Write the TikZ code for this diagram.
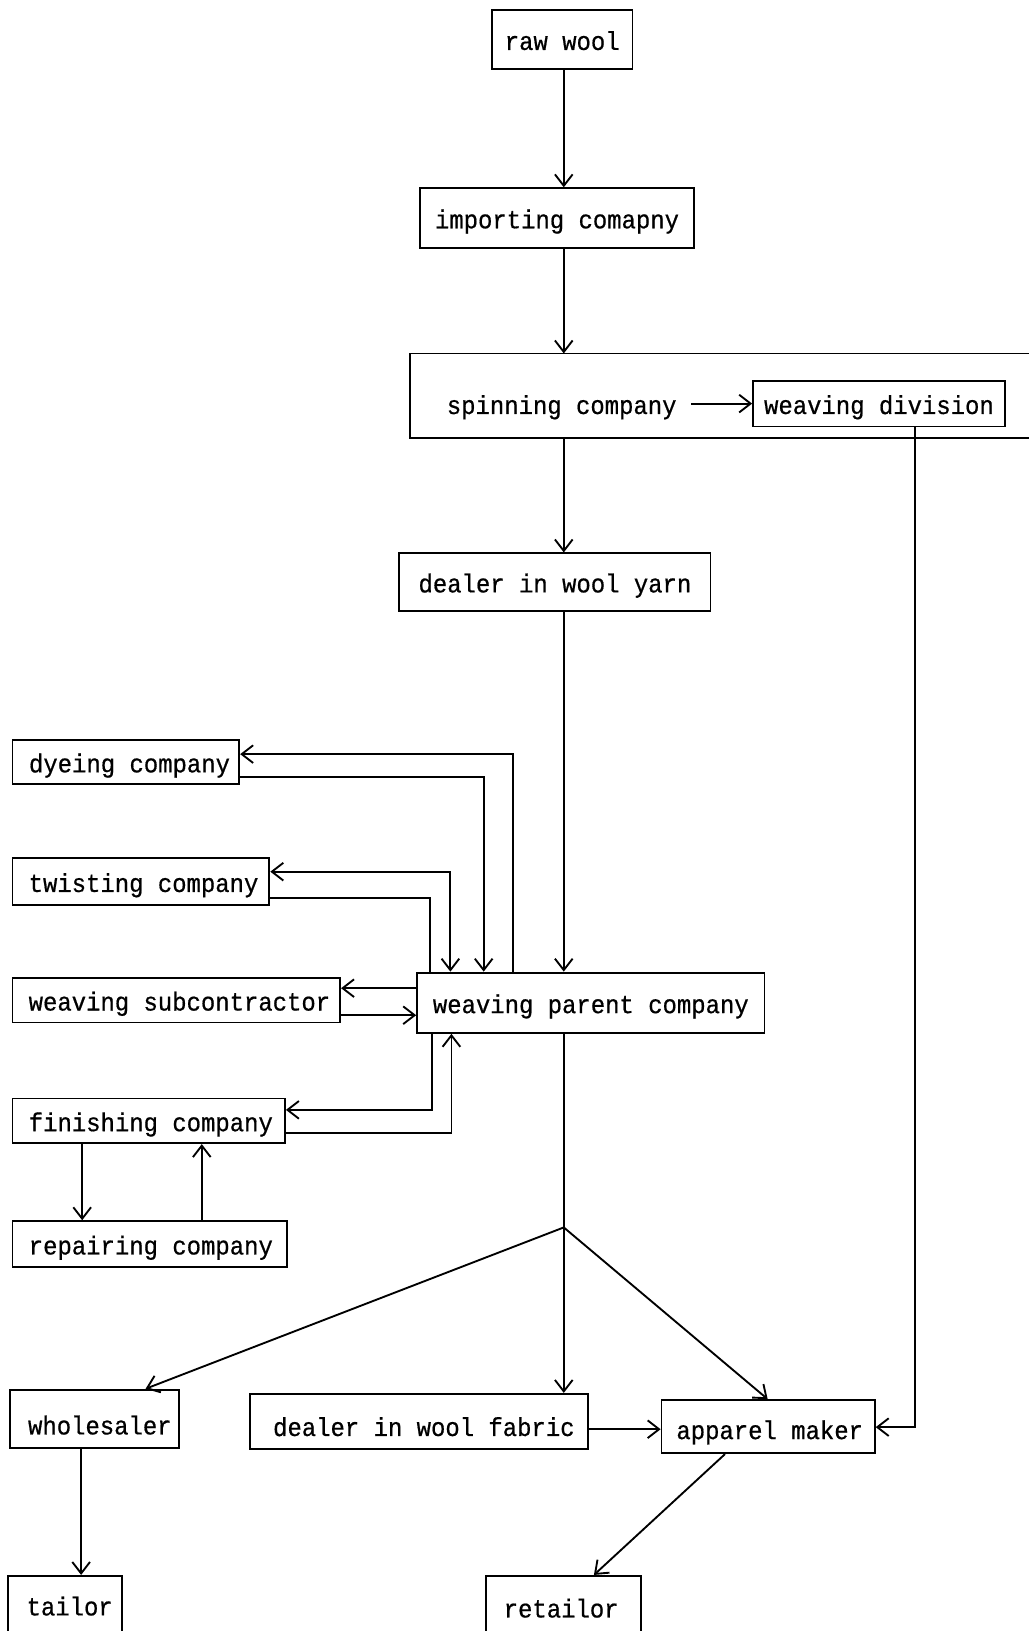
\documentclass[tikz,border=0pt]{standalone}
\usepackage{fontspec}
\setmonofont{Liberation Mono}[FakeBold=0.6,FakeStretch=0.92]
\usetikzlibrary{arrows.meta}
\newcommand{\padl}[1]{\hspace*{#1pt}}
\begin{document}
\begin{tikzpicture}[x=1pt,y=-1pt,
  txt/.style={inner sep=0pt, font=\ttfamily\fontsize{25}{28}\selectfont, text height=24pt, text depth=4pt},
  box/.style={txt, draw, line width=1.8pt},
  low/.style={text height=#1, text depth=4pt},
  ln/.style={line width=1.8pt},
  arr/.style={ln, -{Straight Barb[length=11pt,width=17pt,line width=1.8pt]}},
  arrboth/.style={ln, {Straight Barb[length=11pt,width=17pt,line width=1.8pt]}-{Straight Barb[length=11pt,width=17pt,line width=1.8pt]}}]
\clip (0,0) rectangle (989,1568);
\fill[white] (0,0) rectangle (989,1568);
% nodes
\node[box, minimum width=135pt, minimum height=56pt] (raw) at (540.5,38) {raw wool};
\node[box, minimum width=263pt, minimum height=57pt] (imp) at (535.5,209.5) {importing comapny};
\node[minimum width=606pt, minimum height=81pt, inner sep=0pt] (spin) at (697,380.5) {};
\draw[ln] (spin.north east) -- (spin.north west) -- (spin.south west) -- (spin.south east);
\node[txt] (spintext) at (540,388) {spinning company};
\node[box, minimum width=242pt, minimum height=44pt] (wd) at (845,388) {weaving division};
\node[box, minimum width=299pt, minimum height=55pt] (yarn) at (533.5,559.5) {dealer in wool yarn};
\node[box, minimum width=218pt, minimum height=43pt] (dye) at (121,732.5) {\padl{7}dyeing company};
\node[box, minimum width=247pt, minimum height=45pt] (twist) at (135.5,847.5) {\padl{5}twisting company};
\node[box, minimum width=315pt, minimum height=43pt] (sub) at (169.5,961.5) {\padl{6}weaving subcontractor};
\node[box, minimum width=334pt, minimum height=58pt] (parent) at (568,964) {weaving parent company};
\node[box, minimum width=262pt, minimum height=43pt] (fin) at (143,1077.5) {\padl{4}finishing company};
\node[box, minimum width=264pt, minimum height=44pt] (rep) at (144,1196) {\padl{2}repairing company};
\node[box, low=34pt, minimum width=162pt, minimum height=56pt] (whole) at (91,1364) {\padl{10}wholesaler};
\node[box, low=32pt, minimum width=325pt, minimum height=53pt] (fabric) at (402.5,1366.5) {\padl{10}dealer in wool fabric};
\node[box, low=28pt, minimum width=205pt, minimum height=51pt] (app) at (738.5,1371.5) {\padl{3}apparel maker};
\node[box, low=20pt, minimum width=109pt, minimum height=60pt] (tailor) at (62.5,1545) {\padl{9}tailor};
\node[box, low=22pt, minimum width=149pt, minimum height=62pt] (ret) at (541.5,1546) {retailor\padl{4}};
% coordinates
\coordinate (spine) at (542,0);
\coordinate (wdx) at (880,1372);
\coordinate (d1) at (493,725);
\coordinate (d2) at (465,747);
\coordinate (t1) at (433,838);
\coordinate (t2) at (413,863);
\coordinate (s1) at (0,950);
\coordinate (s2) at (0,976);
\coordinate (f1) at (415,1067);
\coordinate (f2) at (434,1089);
\coordinate (r1) at (79,0);
\coordinate (r2) at (194,0);
\coordinate (br) at (542,1180);
\coordinate (w1) at (140,0);
\coordinate (a1) at (738,0);
\coordinate (fa) at (0,1374);
\coordinate (w2) at (78,0);
\coordinate (a2) at (697,0);
\coordinate (a3) at (571,0);
% connectors
\draw[arr] (spine |- raw.south) -- (spine |- imp.north);
\draw[arr] (spine |- imp.south) -- (spine |- spin.north);
\draw[arr] ([xshift=14pt]spintext.east) -- (wd.west);
\draw[arr] (wdx |- wd.south) -- (wdx) -- (app.east |- wdx);
\draw[arr] (spine |- spin.south) -- (spine |- yarn.north);
\draw[arr] (spine |- yarn.south) -- (spine |- parent.north);
\draw[arr] (d1 |- parent.north) -- (d1) -- (dye.east |- d1);
\draw[arr] (dye.east |- d2) -- (d2) -- (d2 |- parent.north);
\draw[arrboth] (t1 |- parent.north) -- (t1) -- (twist.east |- t1);
\draw[ln] (twist.east |- t2) -- (t2) -- (t2 |- parent.north);
\draw[arr] (parent.west |- s1) -- (sub.east |- s1);
\draw[arr] (sub.east |- s2) -- (parent.west |- s2);
\draw[arr] (f1 |- parent.south) -- (f1) -- (fin.east |- f1);
\draw[arr] (fin.east |- f2) -- (f2) -- (f2 |- parent.south);
\draw[arr] (r1 |- fin.south) -- (r1 |- rep.north);
\draw[arr] (r2 |- rep.north) -- (r2 |- fin.south);
\draw[ln] (spine |- parent.south) -- (br);
\draw[arr] (br) -- (w1 |- whole.north);
\draw[arr] (br) -- (spine |- fabric.north);
\draw[arr] (br) -- (a1 |- app.north);
\draw[arr] (fabric.east |- fa) -- (app.west |- fa);
\draw[arr] (w2 |- whole.south) -- (w2 |- tailor.north);
\draw[arr] (a2 |- app.south) -- (a3 |- ret.north);
\end{tikzpicture}
\end{document}
